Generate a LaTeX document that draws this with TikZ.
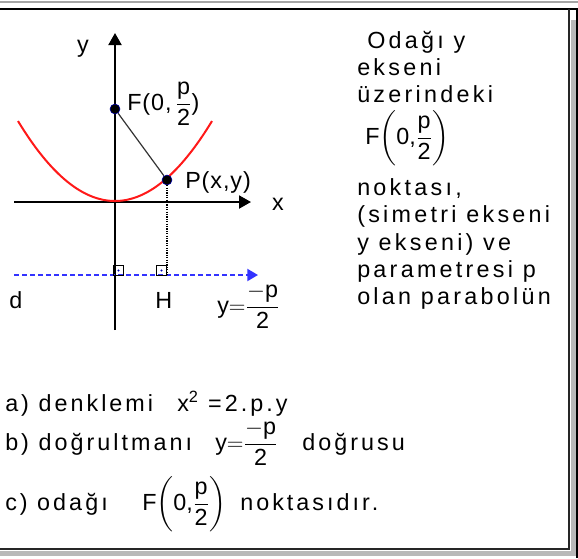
\documentclass[tikz,border=0pt]{standalone}
\usepackage{fontspec}
\setmainfont{Liberation Sans}
\newfontfamily\spacedfont[LetterSpace=13]{Liberation Sans}
\newfontfamily\widefont[LetterSpace=14]{Liberation Sans}
\newfontfamily\graphfont[LetterSpace=4]{Liberation Sans}
\usepackage{amsmath}
\usetikzlibrary{arrows.meta, positioning}

\begin{document}
\begin{tikzpicture}[
  x=0.75pt, y=-0.75pt,
  lbl/.style={font=\fontsize{17.5}{20}\selectfont, inner sep=0pt, anchor=base west},
  glbl/.style={font=\fontsize{17.5}{20}\selectfont\graphfont, inner sep=0pt, anchor=base west},
  txt/.style={font=\fontsize{17.5}{20}\selectfont\spacedfont, inner sep=0pt, anchor=base west},
  wtxt/.style={font=\fontsize{17.5}{20}\selectfont\widefont, inner sep=0pt, anchor=base west},
  axis/.style={line width=1.5pt, -{Triangle[width=9.75pt, length=9pt]}},
  dot/.style={circle, fill=black, draw=blue!70!black, line width=0.4pt, inner sep=0pt, minimum size=7.5pt},
  rightbox/.style={draw, line width=0.75pt, inner sep=0pt, minimum size=7.5pt},
  frameline/.style={line width=1.5pt}
]
  \useasboundingbox (0,0) rectangle (578,558);

  % frame and shadow
  \fill[gray!55] (571,20) rectangle (576,556);
  \fill[gray!55] (0,551) rectangle (576,556);
  \draw[gray!70, line width=1.2pt] (0,2) -- (578,2);
  \draw[frameline] (0,9) -- (577,9) -- (577,558);
  \draw[frameline, black!85] (569,9) -- (569,549) -- (0,549);

  % axes
  \coordinate (xl) at (14,202);
  \coordinate (xr) at (251,202);
  \coordinate (yb) at (115,330);
  \coordinate (yt) at (115,33);
  \draw[axis] (xl) -- (xr);
  \draw[axis] (yb) -- (yt);
  \node[glbl, anchor=center] (ylab) at (83,49) {y};
  \node[glbl, anchor=center] (xlab) at (278,204) {x};

  % parabola
  \draw[red!90!white, line width=1.5pt, domain=-97:97, samples=80]
    plot ({115+\x}, {201-0.0085*\x*\x});

  % directrix
  \coordinate (dl) at (14,275);
  \coordinate (dr) at (258,275);
  \draw[blue!80!white, line width=1.5pt, dash pattern=on 3.75pt off 2.25pt,
    -{Triangle[width=9pt, length=8pt]}] (dl) -- (dr);

  % focus, point, foot
  \node[dot] (F) at (115,109) {};
  \node[dot] (P) at (167,180) {};
  \coordinate (H) at (167,275);
  \draw[black!80, line width=0.9pt] (F) -- (P);
  \draw[densely dotted, line width=0.8pt] (P) -- (H);

  \node[rightbox] (sq1) at (118.5,270.5) {};
  \node[rightbox] (sq2) at (161.5,270.5) {};
  \fill[blue!70!black] (sq1.center) circle (0.9pt);
  \fill[blue!70!black] (sq2.center) circle (0.9pt);

  \node[glbl] (Flab) at (127,110) {F(0,\,$\dfrac{\mbox{p}}{\mbox{2}}$)};
  \node[glbl] (Plab) at (185,188) {P(x,y)};
  \node[glbl] (dlab) at (9,308) {d};
  \node[glbl] (Hlab) at (155,308) {H};
  \node[glbl] (eqlab) at (217,313) {$\mbox{y}{=}\dfrac{-\mbox{p}}{\mbox{2}}$};

  % right text
  \node[wtxt] (t1) at (367,48) {Odağı y};
  \node[wtxt] (t2) at (357,75) {ekseni};
  \node[wtxt] (t3) at (357,102) {üzerindeki};
  \node[lbl] (t4) at (365,144) {F$\biggl(\mbox{0,}\dfrac{\mbox{p}}{\mbox{2}}\biggr)$};
  \node[wtxt] (t5) at (357,195) {noktası,};
  \node[wtxt] (t6) at (357,222) {(simetri ekseni};
  \node[wtxt] (t7) at (357,250) {y ekseni) ve};
  \node[wtxt] (t8) at (357,277) {parametresi p};
  \node[wtxt] (t9) at (357,304) {olan parabolün};

  % bottom text
  \node[txt] (a1) at (5,411) {a) denklemi};
  \node[txt] (a2) at (177,411) {x\textsuperscript{2} =2.p.y};
  \node[txt] (b1) at (5,450) {b) doğrultmanı};
  \node[lbl] (b2) at (215,450) {$\mbox{y}{=}\dfrac{-\mbox{p}}{\mbox{2}}$};
  \node[txt] (b3) at (302,450) {doğrusu};
  \node[txt] (c1) at (5,510) {c) odağı};
  \node[lbl] (c2) at (142,510) {F$\biggl(\mbox{0,}\dfrac{\mbox{p}}{\mbox{2}}\biggr)$};
  \node[txt] (c3) at (240,510) {noktasıdır.};
\end{tikzpicture}
\end{document}
